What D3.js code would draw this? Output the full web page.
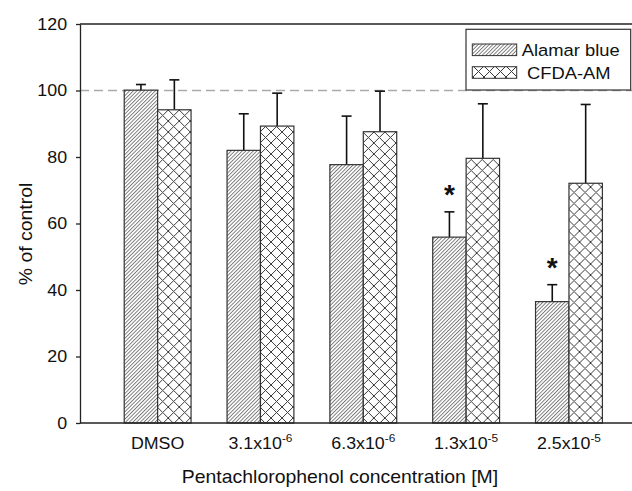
<!DOCTYPE html>
<html>
<head>
<meta charset="utf-8">
<script src="https://cdnjs.cloudflare.com/ajax/libs/d3/7.8.5/d3.min.js"></script>
<style>
  html, body { margin: 0; padding: 0; background: #fff; }
  svg { display: block; }
  text { font-family: "Liberation Sans", Arial, sans-serif; fill: #111; }
</style>
</head>
<body>
<svg id="chart" width="632" height="491"></svg>
<script>
// ---- data ----
const categories = ["DMSO", "3.1e-6", "6.3e-6", "1.3e-5", "2.5e-5"];
const tickBase = ["DMSO", "3.1x10", "6.3x10", "1.3x10", "2.5x10"];
const tickExp = ["", "-6", "-6", "-5", "-5"];
const seriesNames = ["Alamar blue", "CFDA-AM"];
const alamar = [100.1, 82.0, 77.7, 55.9, 36.5];
const alamarErr = [1.7, 11.0, 14.6, 7.6, 5.1];
const cfda = [94.2, 89.3, 87.6, 79.6, 72.1];
const cfdaErr = [9.0, 9.9, 12.2, 16.4, 23.7];
const alamarSig = [false, false, false, true, true];
const yTicks = [0, 20, 40, 60, 80, 100, 120];
const refValue = 100;
const xTitle = "Pentachlorophenol concentration [M]";
const yTitle = "% of control";

// ---- layout ----
const svg = d3.select("#chart");
const L = 80, R = 646.6, T = 24, B = 423;
const SX = 1.08; // horizontal text stretch
const ink = "#222";

const y = d3.scaleLinear().domain([0, 120]).range([B, T]);
const x0 = d3.scaleBand().domain(categories).range([L, R]).paddingInner(0.35).paddingOuter(0.43);
const x1 = d3.scaleBand().domain(seriesNames).range([0, x0.bandwidth()]);

// ---- patterns ----
const defs = svg.append("defs");
const pA = defs.append("pattern").attr("id", "hatch").attr("patternUnits", "userSpaceOnUse")
  .attr("width", 2.6).attr("height", 10).attr("patternTransform", "rotate(45)");
pA.append("rect").attr("width", 2.6).attr("height", 10).attr("fill", "#fff");
pA.append("line").attr("x1", 0.5).attr("y1", 0).attr("x2", 0.5).attr("y2", 10)
  .attr("stroke", "#4a4a4a").attr("stroke-width", 0.75);
const pC = defs.append("pattern").attr("id", "cross").attr("patternUnits", "userSpaceOnUse")
  .attr("width", 11).attr("height", 11);
pC.append("rect").attr("width", 11).attr("height", 11).attr("fill", "#fff");
pC.append("path").attr("d", "M0,0L11,11M11,0L0,11M-1,10L1,12M10,-1L12,1M-1,1L1,-1M10,12L12,10")
  .attr("stroke", "#3a3a3a").attr("stroke-width", 1).attr("fill", "none");
const fills = { "Alamar blue": "url(#hatch)", "CFDA-AM": "url(#cross)" };

function stretchedText(g, x, yy, str, size, anchor) {
  return g.append("text")
    .attr("transform", `translate(${x},${yy}) scale(${SX},1)`)
    .attr("font-size", size)
    .attr("text-anchor", anchor || "start")
    .text(str);
}

// ---- reference dashed line ----
svg.append("line")
  .attr("x1", L).attr("x2", R).attr("y1", y(refValue)).attr("y2", y(refValue))
  .attr("stroke", "#aaa").attr("stroke-width", 1.3).attr("stroke-dasharray", "9,5");

// ---- bars ----
const rows = categories.map((c, i) => ({
  cat: c,
  vals: [
    { s: "Alamar blue", v: alamar[i], e: alamarErr[i], sig: alamarSig[i] },
    { s: "CFDA-AM", v: cfda[i], e: cfdaErr[i], sig: false }
  ]
}));

const groups = svg.append("g").selectAll("g").data(rows).join("g")
  .attr("transform", d => `translate(${x0(d.cat)},0)`);

groups.selectAll("g.err").data(d => d.vals).join("g").attr("class", "err").each(function (d) {
  const g = d3.select(this);
  const cx = x1(d.s) + x1.bandwidth() / 2;
  g.append("line").attr("x1", cx).attr("x2", cx).attr("y1", y(d.v)).attr("y2", y(d.v + d.e))
    .attr("stroke", "#111").attr("stroke-width", 1.6);
  g.append("line").attr("x1", cx - 5).attr("x2", cx + 5).attr("y1", y(d.v + d.e)).attr("y2", y(d.v + d.e))
    .attr("stroke", "#111").attr("stroke-width", 1.6);
  if (d.sig) {
    g.append("text").attr("x", cx).attr("y", y(d.v + d.e) - 24 + 16)
      .attr("text-anchor", "middle").attr("font-size", 28).attr("font-weight", "bold").text("*");
  }
});

groups.selectAll("rect").data(d => d.vals).join("rect")
  .attr("x", d => x1(d.s))
  .attr("y", d => y(d.v))
  .attr("width", x1.bandwidth())
  .attr("height", d => y(0) - y(d.v))
  .attr("fill", d => fills[d.s])
  .attr("stroke", "#333").attr("stroke-width", 1.2);

// ---- frame / axes ----
svg.append("line").attr("x1", L).attr("x2", R).attr("y1", T).attr("y2", T)
  .attr("stroke", ink).attr("stroke-width", 1.3);
svg.append("line").attr("x1", L).attr("x2", R).attr("y1", B).attr("y2", B)
  .attr("stroke", ink).attr("stroke-width", 1.3);

const yAxis = svg.append("g").attr("transform", `translate(${L},0)`)
  .call(d3.axisLeft(y).tickValues(yTicks).tickSize(4).tickSizeOuter(0).tickPadding(8));
yAxis.select(".domain").attr("stroke", ink).attr("stroke-width", 1.3);
yAxis.selectAll(".tick line").attr("stroke", ink).attr("stroke-width", 1.3);
yAxis.selectAll(".tick text")
  .attr("font-family", "Liberation Sans, Arial, sans-serif")
  .attr("font-size", 16.5).attr("fill", "#111")
  .attr("transform", `scale(${SX},1)`);

// x tick labels with superscripts
const xl = svg.append("g");
categories.forEach((c, i) => {
  const cx = x0(c) + x0.bandwidth() / 2;
  const t = xl.append("text")
    .attr("transform", `translate(${cx},449) scale(${SX},1)`)
    .attr("text-anchor", "middle").attr("font-size", 16.5);
  t.append("tspan").text(tickBase[i]);
  if (tickExp[i]) {
    t.append("tspan").attr("dy", -7).attr("font-size", 11).text(tickExp[i]);
  }
});

// axis titles
stretchedText(svg, 340, 483, xTitle, 18, "middle");
svg.append("text")
  .attr("transform", `translate(31.5,234) rotate(-90) scale(${SX},1)`)
  .attr("text-anchor", "middle").attr("font-size", 18).text(yTitle);

// ---- legend ----
const lg = svg.append("g");
lg.append("rect").attr("x", 466).attr("y", 29.3).attr("width", 164.7).attr("height", 60.7)
  .attr("fill", "#fff").attr("stroke", "#333").attr("stroke-width", 1.2);
seriesNames.forEach((s, i) => {
  const yy = 44 + i * 22.7;
  lg.append("rect").attr("x", 472.3).attr("y", yy).attr("width", 44.4).attr("height", 11.6)
    .attr("fill", fills[s]).attr("stroke", "#333").attr("stroke-width", 1);
  stretchedText(lg, i === 0 ? 521.7 : 527, yy + 11.8, s, 17, "start");
});
</script>
</body>
</html>
